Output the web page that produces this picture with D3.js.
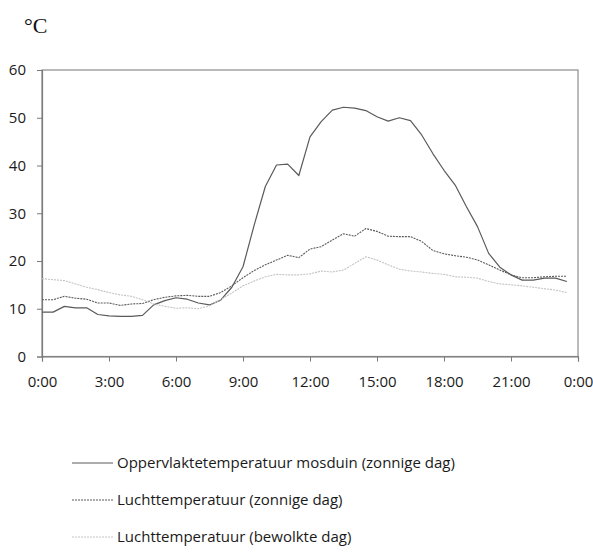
<!DOCTYPE html>
<html>
<head>
<meta charset="utf-8">
<script src="https://cdn.jsdelivr.net/npm/d3@7"></script>
<style>
  body { margin: 0; background: #fff; }
  svg text { font-family: "Open Sans", "Liberation Sans", sans-serif; }
</style>
</head>
<body>
<svg id="chart" width="593" height="552"></svg>
<script>
// Half-hourly readings, 0:00 .. 23:30
const times = d3.range(0, 24, 0.5);

const surfaceSunny = [
  9.3, 9.3, 10.5, 10.2, 10.2, 8.8, 8.5, 8.4, 8.4, 8.6, 10.8, 11.7,
  12.3, 12.0, 11.2, 10.8, 11.8, 14.5, 18.8, 27.5, 35.6, 40.1, 40.3, 37.9,
  46.0, 49.2, 51.6, 52.2, 52.0, 51.5, 50.2, 49.3, 50.0, 49.4, 46.4, 42.5,
  39.0, 35.9, 31.4, 27.2, 21.6, 18.7, 17.1, 16.0, 16.0, 16.4, 16.4, 15.7
];

const airSunny = [
  11.9, 11.9, 12.6, 12.2, 12.0, 11.2, 11.2, 10.7, 11.0, 11.1, 11.9, 12.4,
  12.7, 12.8, 12.6, 12.6, 13.4, 14.8, 16.5, 18.0, 19.2, 20.2, 21.2, 20.7,
  22.5, 23.0, 24.4, 25.7, 25.2, 26.8, 26.2, 25.2, 25.1, 25.1, 24.1, 22.2,
  21.5, 21.1, 20.8, 20.2, 19.2, 18.1, 17.1, 16.5, 16.5, 16.7, 16.8, 16.8
];

const airCloudy = [
  16.3, 16.1, 15.9, 15.2, 14.5, 14.0, 13.4, 12.9, 12.6, 11.9, 11.0, 10.5,
  10.1, 10.2, 10.0, 10.6, 11.9, 13.3, 14.8, 15.8, 16.7, 17.2, 17.1, 17.1,
  17.3, 17.9, 17.7, 18.1, 19.5, 20.9, 20.2, 19.2, 18.3, 17.9, 17.7, 17.4,
  17.2, 16.7, 16.6, 16.4, 15.7, 15.2, 15.0, 14.8, 14.5, 14.2, 13.9, 13.4
];

const xTicks = [0, 3, 6, 9, 12, 15, 18, 21, 24];
const yTicks = [0, 10, 20, 30, 40, 50, 60];

const legendLabels = [
  "Oppervlaktetemperatuur mosduin (zonnige dag)",
  "Luchttemperatuur (zonnige dag)",
  "Luchttemperatuur (bewolkte dag)"
];

const series = [
  { values: surfaceSunny, color: "#5a5a5a", width: 1.2, dash: null },
  { values: airSunny,     color: "#5a5a5a", width: 1.1, dash: "2,1" },
  { values: airCloudy,    color: "#c4c4c4", width: 1.1, dash: "2,1" }
];

const svg = d3.select("#chart");
const plotLeft = 42, plotRight = 578, plotTop = 70, plotBottom = 356.5;

const x = d3.scaleLinear().domain([0, 24]).range([plotLeft, plotRight]);
const y = d3.scaleLinear().domain([0, 60]).range([plotBottom, plotTop]);

// unit label
svg.append("text")
  .attr("x", 24).attr("y", 33)
  .style("font-family", "'Liberation Serif', 'DejaVu Serif', serif")
  .style("font-size", "22px")
  .attr("fill", "#111")
  .text("°C");

// plot area frame
svg.append("rect")
  .attr("x", plotLeft).attr("y", plotTop)
  .attr("width", plotRight - plotLeft).attr("height", plotBottom - plotTop)
  .attr("fill", "none").attr("stroke", "#8c8c8c").attr("stroke-width", 1.2);

const fmt = h => (h % 24) + ":00";

const xAxis = svg.append("g")
  .attr("transform", `translate(0,${plotBottom})`)
  .call(d3.axisBottom(x).tickValues(xTicks).tickFormat(fmt).tickSize(5).tickPadding(15));

const yAxis = svg.append("g")
  .attr("transform", `translate(${plotLeft},0)`)
  .call(d3.axisLeft(y).tickValues(yTicks).tickSize(5).tickPadding(11));

[xAxis, yAxis].forEach(g => {
  g.select(".domain").attr("stroke", "#7a7a7a").attr("stroke-width", 1.2);
  g.selectAll(".tick line").attr("stroke", "#7a7a7a");
  g.selectAll(".tick text")
    .attr("fill", "#1a1a1a")
    .style("font-size", "15px")
    .style("font-family", "'Open Sans', 'Liberation Sans', sans-serif");
});

const line = d3.line()
  .x((d, i) => x(times[i]))
  .y(d => y(d));

series.forEach(s => {
  svg.append("path")
    .datum(s.values)
    .attr("d", line)
    .attr("fill", "none")
    .attr("stroke", s.color)
    .attr("stroke-width", s.width)
    .attr("stroke-dasharray", s.dash)
    .attr("stroke-linejoin", "round");
});

// legend
const legend = svg.append("g");
legendLabels.forEach((label, i) => {
  const ly = 463 + i * 37;
  const s = series[i];
  legend.append("line")
    .attr("x1", 72).attr("x2", 113)
    .attr("y1", ly).attr("y2", ly)
    .attr("stroke", s.color)
    .attr("stroke-width", s.width)
    .attr("stroke-dasharray", s.dash);
  legend.append("text")
    .attr("x", 117).attr("y", ly)
    .attr("dy", "0.35em")
    .attr("fill", "#1a1a1a")
    .style("font-size", "15px")
    .text(label);
});
</script>
</body>
</html>
